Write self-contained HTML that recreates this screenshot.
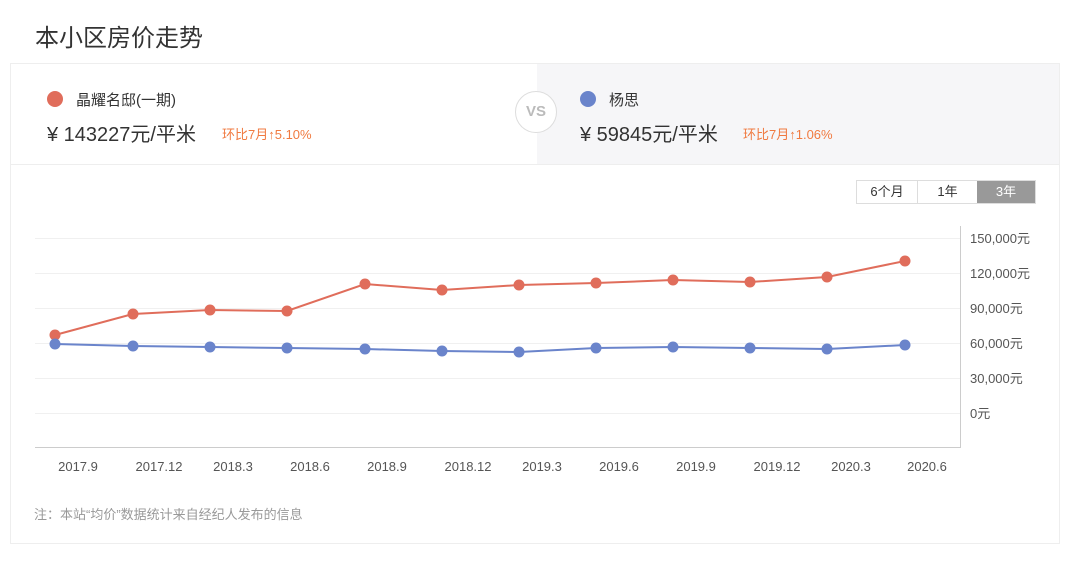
<!DOCTYPE html>
<html><head><meta charset="utf-8"><style>
body{margin:0;width:1080px;height:564px;background:#fff;font-family:"Liberation Sans","Noto Sans CJK SC",sans-serif;position:relative;overflow:hidden}
.a{position:absolute;white-space:nowrap}
</style></head><body>
<div class="a" style="left:35px;top:18px;font-size:24px;color:#333">本小区房价走势</div>
<div class="a" style="left:10px;top:63px;width:1050px;height:481px;border:1px solid #eee;box-sizing:border-box"></div>
<div class="a" style="left:537px;top:64px;width:522px;height:100px;background:#f6f6f8"></div>
<div class="a" style="left:11px;top:164px;width:1048px;height:1px;background:#eee"></div>
<div class="a" style="left:47px;top:91px;width:16px;height:16px;border-radius:50%;background:#e06d5b"></div>
<div class="a" style="left:76px;top:89px;font-size:15px;color:#333">晶耀名邸(一期)</div>
<div class="a" style="left:47px;top:118px;font-size:20px;color:#333">¥ 143227元/平米</div>
<div class="a" style="left:222px;top:124px;font-size:13px;color:#f07a40">环比7月↑5.10%</div>
<div class="a" style="left:515px;top:91px;width:40px;height:40px;border-radius:50%;border:1px solid #ddd;background:#fff;color:#bbb;font-size:15px;font-weight:bold;text-align:center;line-height:40px">VS</div>
<div class="a" style="left:580px;top:91px;width:16px;height:16px;border-radius:50%;background:#6a84cb"></div>
<div class="a" style="left:609px;top:89px;font-size:15px;color:#333">杨思</div>
<div class="a" style="left:580px;top:118px;font-size:20px;color:#333">¥ 59845元/平米</div>
<div class="a" style="left:743px;top:124px;font-size:13px;color:#f07a40">环比7月↑1.06%</div>
<div class="a" style="left:856px;top:180px;width:180px;height:24px;border:1px solid #ddd;box-sizing:border-box;display:flex;font-size:13px;color:#333">
<div style="width:60px;text-align:center;line-height:22px;border-right:1px solid #ddd">6个月</div>
<div style="width:59px;text-align:center;line-height:22px">1年</div>
<div style="flex:1;text-align:center;line-height:22px;background:#999;color:#fff">3年</div></div>
<svg class="a" style="left:0;top:0" width="1080" height="564">
<g stroke="#f0f0f0" stroke-width="1">
<line x1="35" x2="960" y1="238.5" y2="238.5"/><line x1="35" x2="960" y1="273.5" y2="273.5"/><line x1="35" x2="960" y1="308.5" y2="308.5"/><line x1="35" x2="960" y1="343.5" y2="343.5"/><line x1="35" x2="960" y1="378.5" y2="378.5"/><line x1="35" x2="960" y1="413.5" y2="413.5"/></g>
<line x1="960.5" x2="960.5" y1="226" y2="448" stroke="#ccc"/>
<line x1="35" x2="961" y1="447.5" y2="447.5" stroke="#ccc"/>
<g font-size="13" fill="#555" font-family="Liberation Sans,Noto Sans CJK SC,sans-serif">
<text x="970" y="243">150,000元</text><text x="970" y="278">120,000元</text><text x="970" y="313">90,000元</text><text x="970" y="348">60,000元</text><text x="970" y="383">30,000元</text><text x="970" y="418">0元</text>
<g text-anchor="middle"><text x="78" y="471">2017.9</text><text x="159" y="471">2017.12</text><text x="233" y="471">2018.3</text><text x="310" y="471">2018.6</text><text x="387" y="471">2018.9</text><text x="468" y="471">2018.12</text><text x="542" y="471">2019.3</text><text x="619" y="471">2019.6</text><text x="696" y="471">2019.9</text><text x="777" y="471">2019.12</text><text x="851" y="471">2020.3</text><text x="927" y="471">2020.6</text></g>
</g>
<polyline fill="none" stroke="#e06d5b" stroke-width="2" points="55,335 133,314 210,310 287,311 365,284 442,290 519,285 596,283 673,280 750,282 827,277 905,261"/>
<polyline fill="none" stroke="#6a84cb" stroke-width="2" points="55,344 133,346 210,347 287,348 365,349 442,351 519,352 596,348 673,347 750,348 827,349 905,345"/>
<g fill="#e06d5b"><circle cx="55" cy="335" r="5.5"/><circle cx="133" cy="314" r="5.5"/><circle cx="210" cy="310" r="5.5"/><circle cx="287" cy="311" r="5.5"/><circle cx="365" cy="284" r="5.5"/><circle cx="442" cy="290" r="5.5"/><circle cx="519" cy="285" r="5.5"/><circle cx="596" cy="283" r="5.5"/><circle cx="673" cy="280" r="5.5"/><circle cx="750" cy="282" r="5.5"/><circle cx="827" cy="277" r="5.5"/><circle cx="905" cy="261" r="5.5"/></g>
<g fill="#6a84cb"><circle cx="55" cy="344" r="5.5"/><circle cx="133" cy="346" r="5.5"/><circle cx="210" cy="347" r="5.5"/><circle cx="287" cy="348" r="5.5"/><circle cx="365" cy="349" r="5.5"/><circle cx="442" cy="351" r="5.5"/><circle cx="519" cy="352" r="5.5"/><circle cx="596" cy="348" r="5.5"/><circle cx="673" cy="347" r="5.5"/><circle cx="750" cy="348" r="5.5"/><circle cx="827" cy="349" r="5.5"/><circle cx="905" cy="345" r="5.5"/></g>
</svg>
<div class="a" style="left:34px;top:504px;font-size:13px;color:#999">注：本站“均价”数据统计来自经纪人发布的信息</div>
</body></html>
